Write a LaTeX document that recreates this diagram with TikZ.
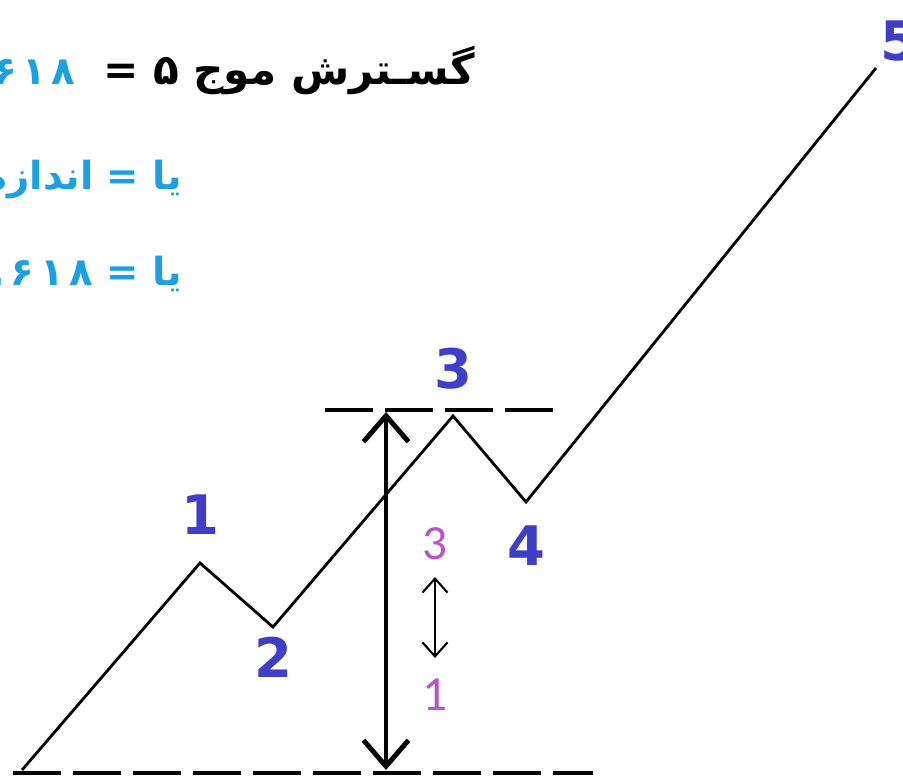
\documentclass[tikz,border=0pt]{standalone}
\usepackage{fontspec}
\usepackage{xcolor}
\usepackage{tikz}
\usetikzlibrary{arrows.meta,positioning}
\TeXXeTstate=1
\newfontfamily\farsifont[Script=Arabic]{DejaVu Sans}
\newfontfamily\farsinum[Script=Arabic,LetterSpace=15]{DejaVu Sans}
\newfontfamily\numfont{DejaVu Sans}
\newfontfamily\ratiofont{Carlito}
\definecolor{wavenumblue}{RGB}{62,62,200}
\definecolor{ratiopurple}{RGB}{185,85,200}
\definecolor{fibblue}{RGB}{28,160,228}

\begin{document}
\begin{tikzpicture}[
    x=0.02cm, y=-0.02cm,
    wave/.style={line width=1.6pt, line join=miter},
    level/.style={line width=2.2pt, dash pattern=on 0.96cm off 0.24cm},
    bigarrow/.style={{Straight Barb[length=0.52cm,width=0.9cm]}-{Straight Barb[length=0.52cm,width=0.9cm]},
                     line width=2.8pt},
    smallarrow/.style={{Straight Barb[length=0.28cm,width=0.5cm]}-{Straight Barb[length=0.28cm,width=0.5cm]},
                       line width=1.2pt},
    wavenum/.style={inner sep=0pt, text=wavenumblue, font=\numfont\bfseries\fontsize{31}{31}\selectfont},
    ratio/.style={inner sep=0pt, text=ratiopurple, font=\ratiofont\fontsize{28}{28}\selectfont},
    farsi/.style={inner sep=0pt, anchor=base east, font=\farsifont\bfseries\fontsize{22}{26}\selectfont}
  ]
    \useasboundingbox (0,0) rectangle (903,777);

    % wave points
    \coordinate (w0) at (22,770);
    \coordinate (w1) at (200,563);
    \coordinate (w2) at (273,627);
    \coordinate (w3) at (453,416);
    \coordinate (w4) at (526,502);
    \coordinate (w5) at (876,68);

    % level lines and arrows
    \coordinate (top0) at (325,410);
    \coordinate (top1) at (555,410);
    \coordinate (bot0) at (13,773);
    \coordinate (bot1) at (593,773);
    \coordinate (a0) at (386,412);
    \coordinate (a1) at (386,770);
    \coordinate (s0) at (435,577);
    \coordinate (s1) at (435,658);

    \draw[level] (top0) -- (top1);
    \draw[level] (bot0) -- (bot1);
    \draw[wave] (w0) -- (w1) -- (w2) -- (w3) -- (w4) -- (w5);
    \draw[bigarrow] (a0) -- (a1);
    \draw[smallarrow] (s0) -- (s1);

    \node[wavenum, above=0.56cm of w1] (n1) {1};
    \node[wavenum, below=0.2cm of w2]  (n2) {2};
    \node[wavenum, above=0.52cm of w3] (n3) {3};
    \node[wavenum, below=0.46cm of w4] (n4) {4};
    \node[wavenum, above right=0.12cm and 0.08cm of w5] (n5) {5};

    \node[ratio, above=0.34cm of s0] (r3) {3};
    \node[ratio, below=0.4cm of s1]  (r1) {1};

    % text
    \node[farsi, font=\farsifont\bfseries\fontsize{24}{28}\selectfont] (title) at (475,85)
      {\beginR گسـترش موج ۵ =\endR};
    \node[farsi, text=fibblue, font=\farsinum\bfseries\fontsize{22}{26}\selectfont] (titlenum) at (76,85) {۱.۶۱۸};
    \node[farsi, text=fibblue] (line2) at (182,190) {\beginR یا = اندازه\endR};
    \node[farsi, text=fibblue] (line3) at (182,285) {\beginR یا = {\farsinum ۲.۶۱۸}\endR};
  \end{tikzpicture}
\end{document}
